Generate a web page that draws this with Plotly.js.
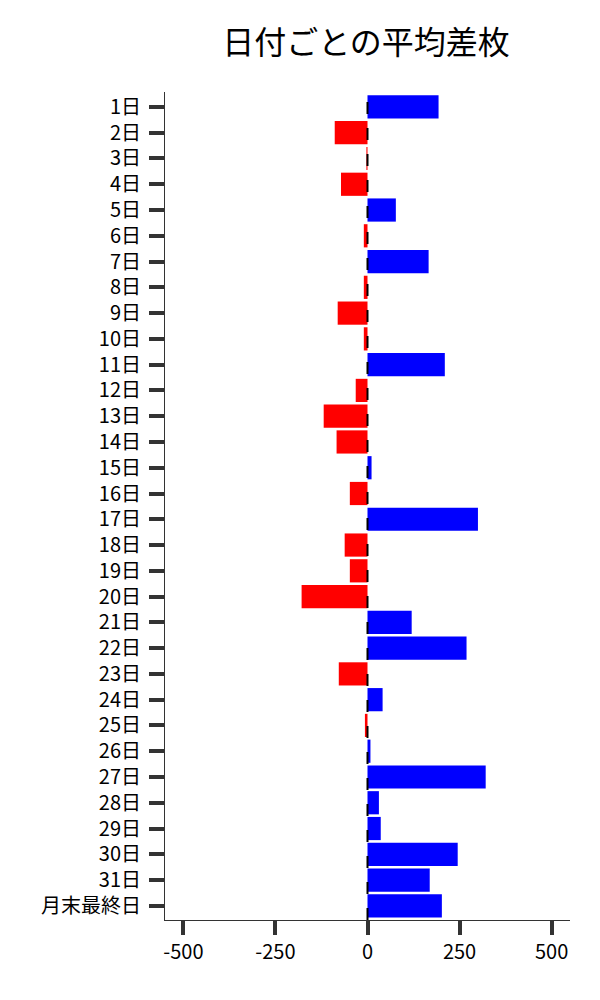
<!DOCTYPE html>
<html>
<head>
<meta charset="utf-8">
<script src="https://cdn.plot.ly/plotly-3.0.1.min.js"></script>
<style>
  html, body { margin: 0; padding: 0; background: #fff; }
  #chart { width: 600px; height: 1000px; }
</style>
</head>
<body>
<div id="chart"></div>
<script>
/* 日付ごとの平均差枚 — horizontal bar chart */

const DAYS = [
    '1日', '2日', '3日', '4日', '5日', '6日', '7日', '8日', '9日', '10日',
    '11日', '12日', '13日', '14日', '15日', '16日', '17日', '18日', '19日', '20日',
    '21日', '22日', '23日', '24日', '25日', '26日', '27日', '28日', '29日', '30日',
    '31日', '月末最終日',
];

const AVG_DIFF = [
    193, -89, -3, -72, 77, -10, 166, -10, -81, -10,
    210, -32, -119, -84, 11, -48, 300, -62, -48, -179,
    120, 269, -78, 41, -7, 8, 321, 31, 36, 245,
    169, 202,
];

const X_TICKS = [-500, -250, 0, 250, 500];

const FONT = '"Noto Sans CJK JP", "Noto Sans", sans-serif';

const trace = {
    type: 'bar',
    orientation: 'h',
    y: DAYS,
    x: AVG_DIFF,
    marker: { color: AVG_DIFF.map(v => v >= 0 ? '#0000FF' : '#FF0000') },
    hoverinfo: 'x+y',
};

const layout = {
    width: 600,
    height: 1000,
    margin: { t: 92, r: 30, b: 80, l: 165 },
    paper_bgcolor: '#fff',
    plot_bgcolor: '#fff',
    font: { family: FONT, size: 20, color: '#000' },
    showlegend: false,
    bargap: 0.1,
    title: {
        text: '日付ごとの平均差枚',
        font: { family: FONT, size: 32, color: '#000' },
        x: 0.61, xanchor: 'center',
        y: 0.957, yanchor: 'middle',
    },
    xaxis: {
        range: [-550, 550],
        tickvals: X_TICKS,
        ticktext: X_TICKS.map(String),
        ticks: 'outside', ticklen: 14, tickwidth: 4, tickcolor: '#333',
        showgrid: false, zeroline: false,
        showline: true, linecolor: '#333', linewidth: 1,
        tickfont: { size: 20 },
        fixedrange: true,
    },
    yaxis: {
        type: 'category',
        range: [DAYS.length - 0.45, -0.58],
        ticks: 'outside', ticklen: 15, tickwidth: 4, tickcolor: '#333',
        showgrid: false, zeroline: false,
        showline: true, linecolor: '#333', linewidth: 1,
        tickfont: { size: 20 },
        ticklabelstandoff: 4,
        fixedrange: true,
    },
    shapes: [{
        type: 'line', xref: 'x', yref: 'paper',
        x0: 0, x1: 0, y0: 0, y1: 1,
        line: { color: '#000', width: 2, dash: '12px,14px' },
        layer: 'above',
    }],
};

Plotly.newPlot('chart', [trace], layout, { displayModeBar: false, staticPlot: true });
</script>
</body>
</html>
